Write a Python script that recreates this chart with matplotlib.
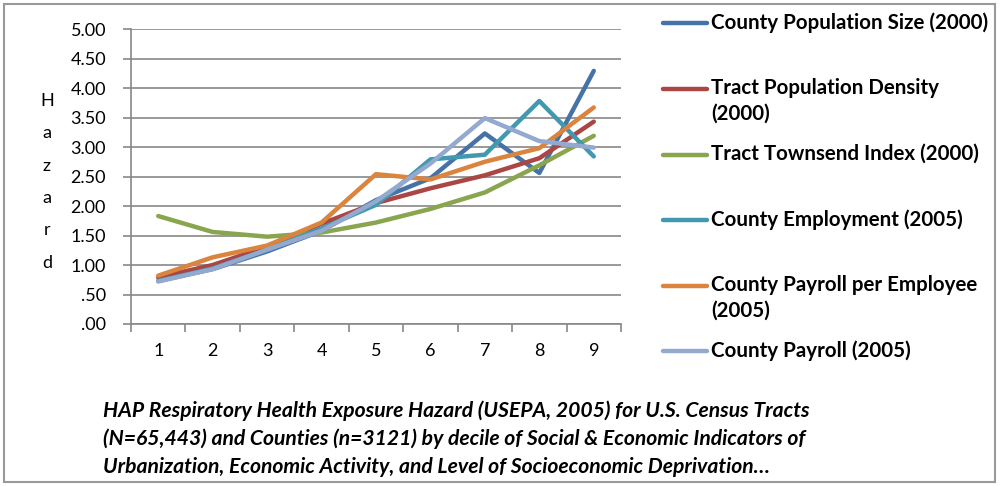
import matplotlib
matplotlib.use("Agg")
import matplotlib.pyplot as plt
from matplotlib.lines import Line2D
from matplotlib.patches import Rectangle

deciles = [1, 2, 3, 4, 5, 6, 7, 8, 9]
county_pop_size = [0.73, 0.93, 1.23, 1.58, 2.10, 2.47, 3.23, 2.56, 4.29]
tract_pop_density = [0.79, 1.00, 1.31, 1.70, 2.05, 2.30, 2.52, 2.81, 3.43]
tract_townsend = [1.83, 1.56, 1.48, 1.55, 1.72, 1.95, 2.23, 2.69, 3.19]
county_employment = [0.73, 0.94, 1.26, 1.62, 2.02, 2.79, 2.87, 3.78, 2.84]
county_payroll_per_emp = [0.82, 1.13, 1.33, 1.72, 2.54, 2.45, 2.75, 2.98, 3.67]
county_payroll = [0.72, 0.93, 1.26, 1.58, 2.08, 2.72, 3.49, 3.10, 2.99]

series = [
    ("County Population Size (2000)", county_pop_size, "#4573A7"),
    ("Tract Population Density\n(2000)", tract_pop_density, "#AA4644"),
    ("Tract Townsend Index (2000)", tract_townsend, "#89A54E"),
    ("County Employment (2005)", county_employment, "#4198AF"),
    ("County Payroll per Employee\n(2005)", county_payroll_per_emp, "#DB843D"),
    ("County Payroll (2005)", county_payroll, "#93A9CF"),
]
y_ticks = [0, 0.5, 1, 1.5, 2, 2.5, 3, 3.5, 4, 4.5, 5]
y_tick_labels = [".00", ".50", "1.00", "1.50", "2.00", "2.50", "3.00", "3.50", "4.00", "4.50", "5.00"]
y_label = "Hazard"
caption = ("HAP Respiratory Health Exposure Hazard (USEPA, 2005) for U.S. Census Tracts\n"
           "(N=65,443) and Counties (n=3121) by decile of Social & Economic Indicators of\n"
           "Urbanization, Economic Activity, and Level of Socioeconomic Deprivation\u2026")

W, H = 1000, 486
fig = plt.figure(figsize=(W / 100, H / 100), dpi=100)
font = "Lato"
grid_c = "#888888"

ax = fig.add_axes([131 / W, 1 - 324 / H, (621 - 131) / W, (324 - 29) / H])
ax.set_xlim(0.5, 9.5)
ax.set_ylim(0, 5)
for name, vals, col in series:
    ax.plot(deciles, vals, color=col, lw=3.2, solid_capstyle="round", solid_joinstyle="round")

ax.set_yticks(y_ticks)
ax.set_yticklabels(y_tick_labels, fontsize=13, family=font)
ax.set_xticks(deciles)
ax.set_xticklabels([str(d) for d in deciles], fontsize=13, family=font)
ax.set_xticks([d + 0.5 for d in [0] + deciles], minor=True)
ax.tick_params(axis="x", which="major", length=0, pad=14)
ax.tick_params(axis="x", which="minor", length=6, color=grid_c, width=1.2, direction="out")
ax.tick_params(axis="y", length=6, color=grid_c, width=1.2, pad=12)
ax.yaxis.grid(True, color=grid_c, lw=1.2)
ax.set_axisbelow(True)
for s in ["top", "right"]:
    ax.spines[s].set_visible(False)
for s in ["left", "bottom"]:
    ax.spines[s].set_color(grid_c)
    ax.spines[s].set_linewidth(1.2)

# vertical stacked y-label
for i, ch in enumerate(y_label):
    fig.text(47 / W, 1 - (101 + i * 32.3) / H, ch, fontsize=13, family=font,
             ha="center", va="center")

# legend
leg_y = [23, 89, 155, 220, 286, 351]
for (name, vals, col), yy in zip(series, leg_y):
    fig.add_artist(Line2D([663 / W, 707 / W], [1 - yy / H, 1 - yy / H], color=col, lw=3.2,
                          solid_capstyle="round", transform=fig.transFigure))
    fig.text(711 / W, 1 - (yy - 11) / H, name, fontsize=14.8, family=font, weight="bold",
             ha="left", va="top", linespacing=1.38)

fig.text(103 / W, 1 - 400 / H, caption, fontsize=15.2, family=font, weight="bold",
         style="italic", ha="left", va="top", linespacing=1.48)

fig.add_artist(Rectangle((4 / W, 4 / H), 991 / W, 478 / H, transform=fig.transFigure,
                         fill=False, edgecolor="#999999", lw=1.5))

fig.savefig("out.png", dpi=100)
